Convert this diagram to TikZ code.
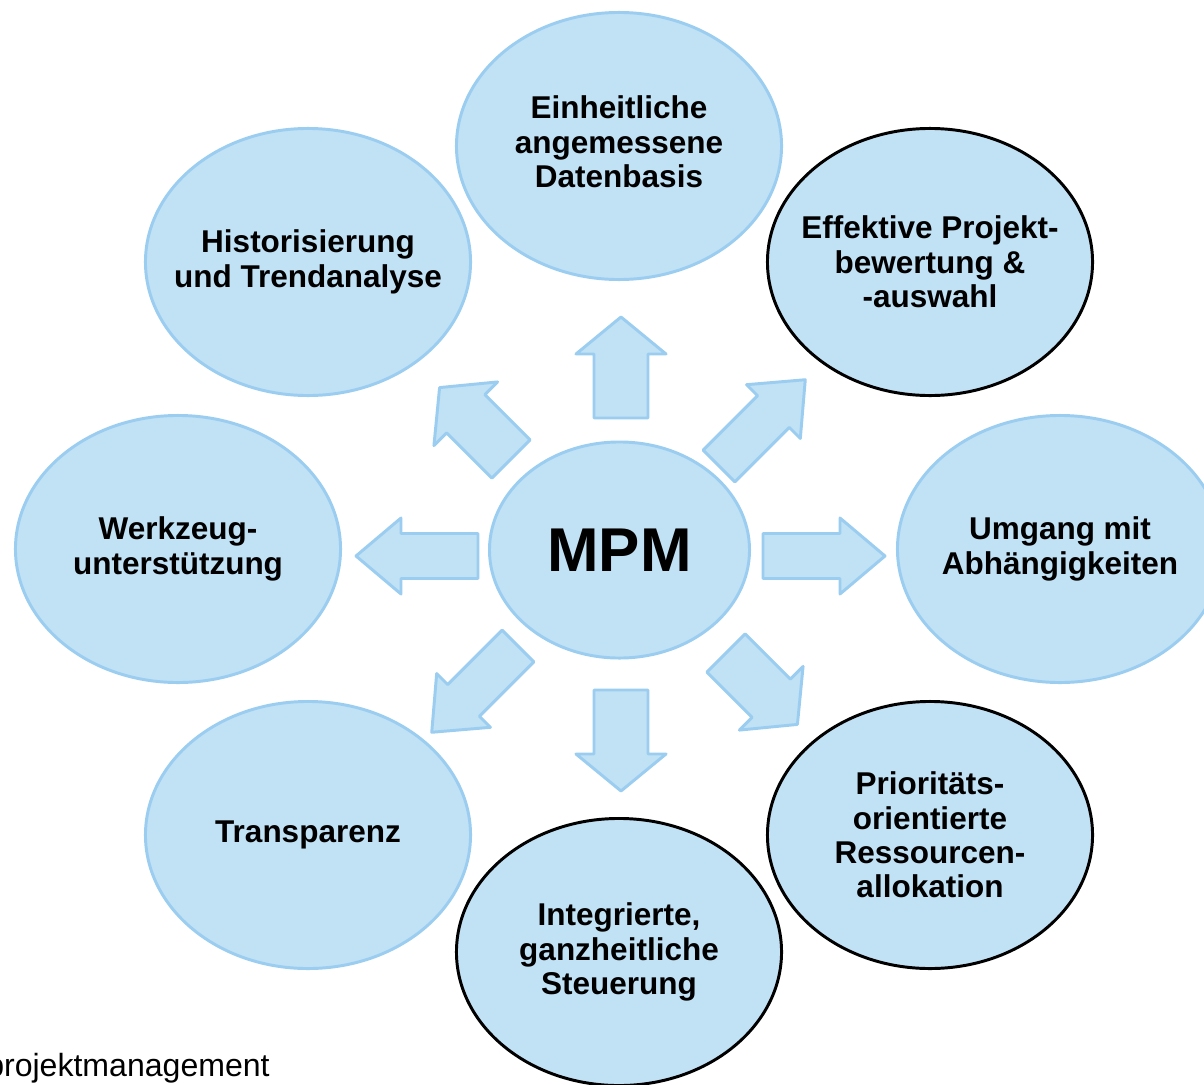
\documentclass[tikz,border=0pt]{standalone}
\usepackage{fontspec}
\setmainfont{Liberation Sans}
\usepackage{tikz}
\usetikzlibrary{shapes.geometric}
\definecolor{blobfill}{RGB}{193,225,245}
\definecolor{blobline}{RGB}{155,205,240}
\tikzset{%
  blob/.style = {ellipse,draw=blobline,fill=blobfill,line width=2.1pt,
        minimum width=8.125cm,minimum height=6.675cm,inner sep=0pt},
  blobdark/.style = {blob,draw=black},
  hub/.style = {blob,minimum width=6.5cm,minimum height=5.4cm},
  lbl/.style = {align=center,inner sep=0pt,
        font=\fontsize{22.4}{24.5}\selectfont\bfseries},
  pfeil/.style = {draw=blobline,fill=blobfill,line width=2.1pt,
        line join=round}
}

\begin{document}
\begin{tikzpicture}[x=0.025cm,y=-0.025cm]
    \useasboundingbox (0,0) rectangle (1204,1085);
    % arrows, short and long
    \foreach \ax/\ay/\ang in {621/418/90,621/690/-90,511/459/135,726/653/-45}
        \draw[pfeil,shift={(\ax,\ay)},rotate=\ang] (0,-27) -- (64,-27) -- (64,-45)
            -- (101,0) -- (64,45) -- (64,27) -- (0,27) -- cycle;
    \foreach \ax/\ay/\ang in {763/556/0,478/556/180,719/466/45,518/646/-135}
        \draw[pfeil,shift={(\ax,\ay)},rotate=\ang] (0,-22.5) -- (77,-22.5) -- (77,-38)
            -- (122,0) -- (77,38) -- (77,22.5) -- (0,22.5) -- cycle;
    % ellipses
    \node[hub] (mpm) at (619.5,550) {};
    \node[blob] (daten) at (619,146) {};
    \node[blob] (historie) at (308,262) {};
    \node[blobdark] (bewertung) at (930,262) {};
    \node[blob] (werkzeug) at (178,549) {};
    \node[blob] (abhaengig) at (1060,549) {};
    \node[blob] (transparenz) at (308,835) {};
    \node[blobdark] (ressourcen) at (930,835) {};
    \node[blobdark] (steuerung) at (619,952) {};
    % texts
    \node[lbl,font=\fontsize{44}{48}\selectfont\bfseries] (mpm-t) at (mpm) {MPM};
    \node[lbl] (daten-t) at ([yshift=3]daten) {Einheitliche\\angemessene\\Datenbasis};
    \node[lbl] (historie-t) at (historie) {Historisierung\\und Trendanalyse};
    \node[lbl] (bewertung-t) at (bewertung) {Effektive Projekt-\\bewertung \&\\-auswahl};
    \node[lbl] (werkzeug-t) at (werkzeug) {Werkzeug-\\unterstützung};
    \node[lbl] (abhaengig-t) at (abhaengig) {Umgang mit\\Abhängigkeiten};
    \node[lbl] (transparenz-t) at (transparenz) {Transparenz};
    \node[lbl] (ressourcen-t) at (ressourcen) {Prioritäts-\\orientierte\\Ressourcen-\\allokation};
    \node[lbl] (steuerung-t) at (steuerung) {Integrierte,\\ganzheitliche\\Steuerung};
    \node[anchor=base west,inner sep=0pt,font=\fontsize{22.8}{26}\selectfont]
        (fuss) at (-14,1076) {projektmanagement};
\end{tikzpicture}
\end{document}
